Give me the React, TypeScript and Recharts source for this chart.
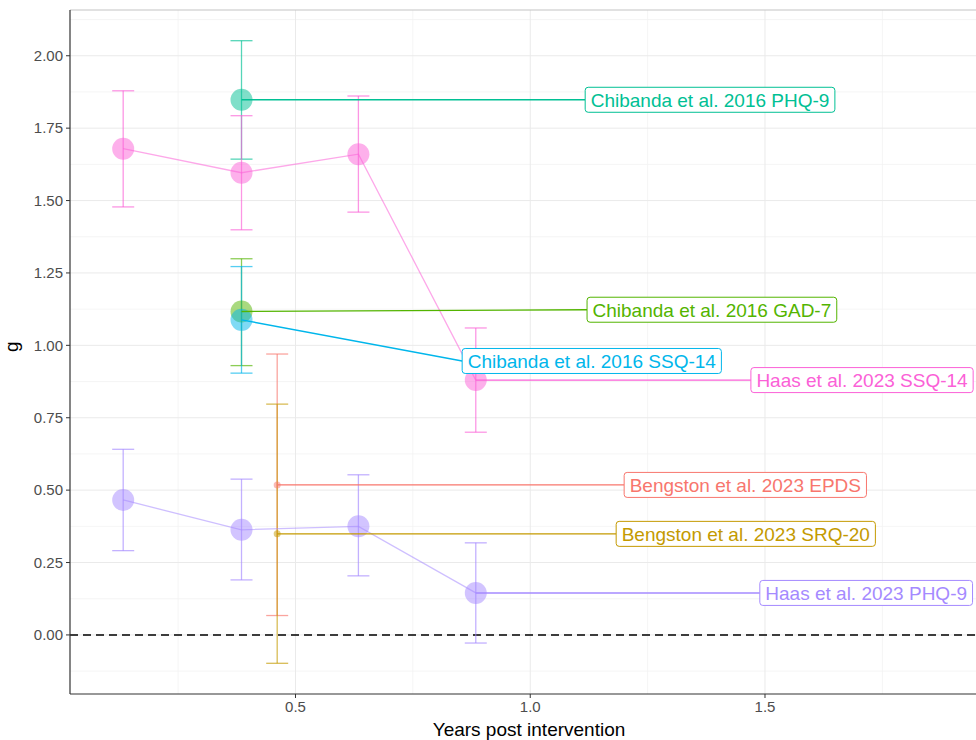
import React from 'react'
import {
  ComposedChart, Scatter, XAxis, YAxis, CartesianGrid, ErrorBar, ReferenceLine,
} from 'recharts'

// Haas et al. 2023, four follow-ups
const haasTimes = [0.133, 0.385, 0.634, 0.884]
const haasSsqG = [1.679, 1.596, 1.66, 0.88]
const haasSsqLo = [1.478, 1.399, 1.46, 0.7]
const haasSsqHi = [1.879, 1.793, 1.861, 1.06]
const haasPhqG = [0.466, 0.363, 0.375, 0.145]
const haasPhqLo = [0.291, 0.19, 0.204, -0.028]
const haasPhqHi = [0.641, 0.538, 0.553, 0.318]

// Chibanda et al. 2016, one follow-up
const chibandaTime = 0.385
const chibandaG = [1.848, 1.117, 1.088]
const chibandaLo = [1.643, 0.93, 0.904]
const chibandaHi = [2.052, 1.299, 1.272]

// Bengston et al. 2023, one follow-up
const bengstonTime = 0.461
const bengstonG = [0.518, 0.349]
const bengstonLo = [0.067, -0.098]
const bengstonHi = [0.97, 0.797]

const seriesNames = [
  'Bengston et al. 2023 EPDS',
  'Bengston et al. 2023 SRQ-20',
  'Chibanda et al. 2016 GAD-7',
  'Chibanda et al. 2016 PHQ-9',
  'Chibanda et al. 2016 SSQ-14',
  'Haas et al. 2023 PHQ-9',
  'Haas et al. 2023 SSQ-14',
]
const seriesColors = ['#F8766D', '#C49A00', '#53B400', '#00C094', '#00B6EB', '#A58AFF', '#FB61D7']

// repelled label placement (left edge x, centre y), in data units
const labelLeft = [1.2, 1.183, 1.121, 1.117, 0.855, 1.489, 1.47]
const labelMidY = [0.518, 0.349, 1.123, 1.848, 0.946, 0.145, 0.88]

const yTicks = [0, 0.25, 0.5, 0.75, 1, 1.25, 1.5, 1.75, 2]
const yMinor = [-0.125, 0.125, 0.375, 0.625, 0.875, 1.125, 1.375, 1.625, 1.875, 2.125]
const xTicks = [0.5, 1, 1.5]
const xMinor = [0.25, 0.75, 1.25, 1.75]

const X_DOMAIN: [number, number] = [0.0197, 1.975]
const Y_DOMAIN: [number, number] = [-0.204, 2.158]

const FONT = '"Liberation Sans", Arial, Helvetica, sans-serif'
const LABEL_SIZE = 19
const PAD = 5.5

const pts = (xs: number[], g: number[], lo: number[], hi: number[]) =>
  g.map((v, i) => ({ x: xs[i], y: v, err: [v - lo[i], hi[i] - v] }))

const series = [
  { idx: 0, data: pts([bengstonTime], [bengstonG[0]], [bengstonLo[0]], [bengstonHi[0]]), r: 3.5, line: false },
  { idx: 1, data: pts([bengstonTime], [bengstonG[1]], [bengstonLo[1]], [bengstonHi[1]]), r: 3.5, line: false },
  { idx: 2, data: pts([chibandaTime], [chibandaG[1]], [chibandaLo[1]], [chibandaHi[1]]), r: 11, line: false },
  { idx: 3, data: pts([chibandaTime], [chibandaG[0]], [chibandaLo[0]], [chibandaHi[0]]), r: 11, line: false },
  { idx: 4, data: pts([chibandaTime], [chibandaG[2]], [chibandaLo[2]], [chibandaHi[2]]), r: 11, line: false },
  { idx: 5, data: pts(haasTimes, haasPhqG, haasPhqLo, haasPhqHi), r: 11, line: true },
  { idx: 6, data: pts(haasTimes, haasSsqG, haasSsqLo, haasSsqHi), r: 11, line: true },
]

let ctx: CanvasRenderingContext2D | null = null
const textWidth = (t: string) => {
  if (!ctx) ctx = document.createElement('canvas').getContext('2d')
  if (!ctx) return t.length * LABEL_SIZE * 0.5
  ctx.font = `${LABEL_SIZE}px "Liberation Sans"`
  return ctx.measureText(t).width
}

const labelData = seriesNames.map((name, i) => ({
  x: labelLeft[i], y: labelMidY[i], name, color: seriesColors[i],
}))

const LabelBox = (props: any) => {
  const { cx, cy, payload } = props
  const w = textWidth(payload.name) + PAD * 2
  return (
    <g>
      <rect x={cx} y={cy - 12.5} width={w} height={25} rx={3} fill="#fff"
        stroke={payload.color} strokeWidth={1} />
      <text x={cx + PAD} y={cy} dy="0.36em" fill={payload.color} fontSize={LABEL_SIZE}
        fontFamily={FONT}>{payload.name}</text>
    </g>
  )
}

const Dot = (r: number, color: string) => (props: any) => (
  <circle cx={props.cx} cy={props.cy} r={r} fill={color} fillOpacity={0.5} />
)

export default function App() {
  return (
    <div style={{ position: 'absolute', left: 0, top: 0, width: 976, height: 740, overflow: 'hidden', background: '#fff', fontFamily: FONT }}>
      <ComposedChart width={990} height={740} margin={{ top: 10, right: 2, bottom: 0, left: 8 }}>
        <CartesianGrid horizontalValues={yMinor} verticalValues={xMinor} stroke="#F3F3F3" strokeWidth={0.8} />
        <CartesianGrid horizontalValues={yTicks} verticalValues={xTicks} stroke="#EAEAEA" strokeWidth={1} />
        <XAxis
          type="number" dataKey="x" domain={X_DOMAIN} ticks={xTicks} allowDataOverflow
          tickFormatter={(v) => v.toFixed(1)}
          tick={{ fontSize: 15, fill: '#4D4D4D' }} tickSize={4} tickMargin={3}
          axisLine={{ stroke: '#333', strokeWidth: 1.2 }} tickLine={{ stroke: '#333' }}
          height={46}
          label={{ value: 'Years post intervention', position: 'insideBottom', offset: 4, fontSize: 19, fill: '#000' }}
        />
        <YAxis
          type="number" dataKey="y" domain={Y_DOMAIN} ticks={yTicks} allowDataOverflow
          tickFormatter={(v) => v.toFixed(2)}
          tick={{ fontSize: 15, fill: '#4D4D4D' }} tickSize={4} tickMargin={3}
          axisLine={{ stroke: '#333', strokeWidth: 1.2 }} tickLine={{ stroke: '#333' }}
          width={62}
          label={{ value: 'g', angle: -90, position: 'insideLeft', offset: 3, fontSize: 19, fill: '#000' }}
        />
        <ReferenceLine y={Y_DOMAIN[1]} stroke="#C4C4C4" strokeWidth={1.2} />
        <ReferenceLine y={0} stroke="#000" strokeWidth={1.5} strokeDasharray="8 5" />

        {series.map((s) => (
          <Scatter
            key={'pts-' + s.idx}
            data={s.data}
            isAnimationActive={false}
            shape={Dot(s.r, seriesColors[s.idx])}
            line={s.line ? { stroke: seriesColors[s.idx], strokeOpacity: 0.55, strokeWidth: 1.3 } : false}
          >
            <ErrorBar dataKey="err" direction="y" width={11} stroke={seriesColors[s.idx] + 'AA'} strokeWidth={1.3} />
          </Scatter>
        ))}

        {series.map((s) => {
          const last = s.data[s.data.length - 1]
          return (
            <Scatter
              key={'lead-' + s.idx}
              data={[{ x: last.x, y: last.y }, { x: labelLeft[s.idx], y: labelMidY[s.idx] }]}
              isAnimationActive={false}
              shape={() => <g />}
              line={{ stroke: seriesColors[s.idx], strokeWidth: 1.4 }}
            />
          )
        })}

        <Scatter data={labelData} isAnimationActive={false} shape={LabelBox} />
      </ComposedChart>
    </div>
  )
}
